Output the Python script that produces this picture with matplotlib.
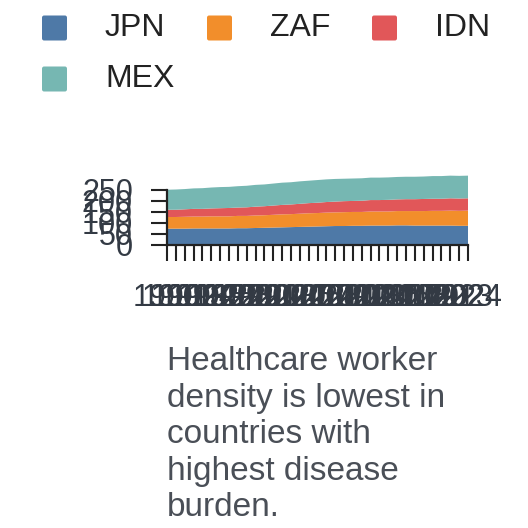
import matplotlib.pyplot as plt
from matplotlib.patches import FancyBboxPatch

plt.rcParams["font.family"] = ["Liberation Sans", "DejaVu Sans"]

years = list(range(1990, 2025))
countries = ["JPN", "ZAF", "IDN", "MEX"]
colors = ["#4e79a7", "#f28e2b", "#e15759", "#76b7b2"]

jpn = [72, 72, 72, 73, 73, 73, 73, 73, 74, 74, 75, 76, 77, 78, 79, 80, 81, 82,
       83, 84, 84, 85, 85, 86, 86, 86, 87, 87, 86, 86, 86, 86, 86, 85, 85]
zaf = [53, 53, 54, 54, 54, 55, 55, 55, 56, 56, 57, 57, 58, 59, 59, 60, 61, 61,
       62, 62, 63, 63, 63, 64, 64, 64, 65, 65, 66, 66, 67, 67, 68, 68, 69]
idn = [33, 33, 34, 35, 35, 36, 37, 38, 38, 39, 40, 41, 42, 43, 44, 45, 46, 47,
       48, 49, 50, 50, 51, 52, 52, 53, 53, 54, 54, 55, 55, 55, 56, 56, 56]
mex = [91, 92, 92, 93, 94, 95, 96, 96, 97, 98, 99, 99, 100, 101, 101, 102, 102, 103,
       103, 103, 102, 102, 102, 102, 102, 102, 102, 102, 102, 102, 103, 103, 103, 103, 103]

yticks = [0, 50, 100, 150, 200, 250]
note = "Healthcare worker\ndensity is lowest in\ncountries with\nhighest disease\nburden."

W = H = 528
fig = plt.figure(figsize=(W / 100, H / 100), dpi=100)
ax = fig.add_axes([167 / W, 1 - 244.5 / H, 301 / W, 70.4 / H])

ax.stackplot(years, jpn, zaf, idn, mex, colors=colors, linewidth=0)
ax.set_xlim(1990, 2024)
ax.set_ylim(0, 320)

axis_col = "#222222"
for s in ["top", "right"]:
    ax.spines[s].set_visible(False)
ax.spines["left"].set_bounds(0, 250)
for s in ["left", "bottom"]:
    ax.spines[s].set_linewidth(1.6)
    ax.spines[s].set_color(axis_col)

ax.set_xticks(years)
ax.set_xticklabels([str(y) for y in years])
ax.set_yticks(yticks)
ax.set_yticklabels([str(v) for v in yticks])
ax.tick_params(axis="x", length=11.5, width=1.5, color=axis_col, pad=16,
               labelsize=22, labelcolor="#333a44")
ax.tick_params(axis="y", length=11.5, width=1.5, color=axis_col, pad=13,
               labelsize=22, labelcolor="#333a44")

# legend
sq = 25
for i, (name, col) in enumerate(zip(countries, colors)):
    row, c = divmod(i, 3)
    x0 = 42 + c * 165
    yc = 28 + row * 51
    fig.add_artist(FancyBboxPatch((x0 / W, 1 - (yc + sq / 2) / H), sq / W, sq / H,
                                  boxstyle="round,pad=0,rounding_size=0.004",
                                  transform=fig.transFigure, facecolor=col,
                                  edgecolor="none"))
    fig.text((x0 + 63) / W, 1 - yc / H, name, fontsize=23, color="#222222",
             va="center", ha="left")

fig.text(167 / W, 1 - 346 / H, note, fontsize=24, color="#4a4f57",
         va="top", ha="left", linespacing=1.23)

fig.savefig("out.png", dpi=100)
